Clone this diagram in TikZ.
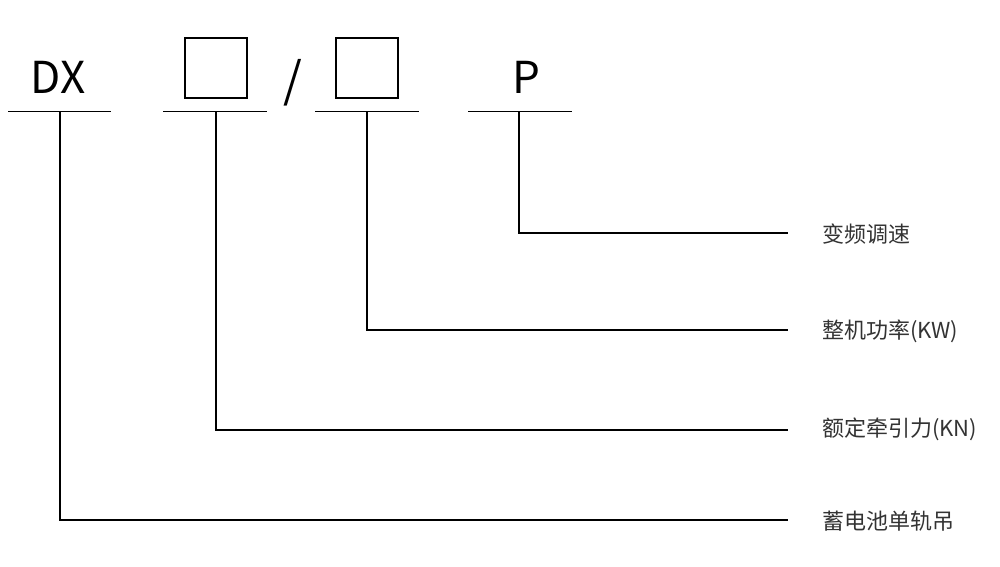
\documentclass[tikz,border=0pt]{standalone}
\usepackage{fontspec}
\setmainfont{Noto Sans CJK SC}
\definecolor{lbl}{HTML}{333333}
\tikzset{
  ln/.style={line width=1.5pt, black},
  bx/.style={draw, line width=2pt, minimum width=62pt, minimum height=60pt, inner sep=0pt},
  big/.style={font=\fontsize{44}{44}\selectfont, inner sep=0pt, anchor=base},
  lab/.style={font=\fontsize{22}{22}\selectfont, text=lbl, inner sep=0pt, anchor=west},
}
\begin{document}
\begin{tikzpicture}[x=1pt,y=-1pt]
\useasboundingbox (0,0) rectangle (1000,566);
% top symbols
\node[big] (dx) at (58,93) {DX};
\node[bx] (b1) at (215.5,68) {};
\node[big, font=\fontsize{48}{48}\selectfont] (sl) at (293,97) {/};
\node[bx] (b2) at (367,68) {};
\node[big] (p) at (526,93) {P};
% base lines
\coordinate (l1a) at (8,111.5); \coordinate (l1b) at (111,111.5);
\coordinate (l2a) at (163,111.5); \coordinate (l2b) at (267,111.5);
\coordinate (l3a) at (315,111.5); \coordinate (l3b) at (419,111.5);
\coordinate (l4a) at (468,111.5); \coordinate (l4b) at (572,111.5);
\draw[ln] (l1a) -- (l1b);
\draw[ln] (l2a) -- (l2b);
\draw[ln] (l3a) -- (l3b);
\draw[ln] (l4a) -- (l4b);
% stems
\coordinate (s1) at (60,111.5); \coordinate (s2) at (216,111.5);
\coordinate (s3) at (367,111.5); \coordinate (s4) at (519,111.5);
\coordinate (e1) at (788,520); \coordinate (e2) at (788,430);
\coordinate (e3) at (788,330); \coordinate (e4) at (788,233);
\draw[ln] (s4) |- (e4);
\draw[ln] (s3) |- (e3);
\draw[ln] (s2) |- (e2);
\draw[ln] (s1) |- (e1);
% labels
\node[lab] (t4) at (822,234) {变频调速};
\node[lab] (t3) at (822,331) {整机功率(KW)};
\node[lab] (t2) at (822,429) {额定牵引力(KN)};
\node[lab] (t1) at (822,521) {蓄电池单轨吊};
\end{tikzpicture}
\end{document}
